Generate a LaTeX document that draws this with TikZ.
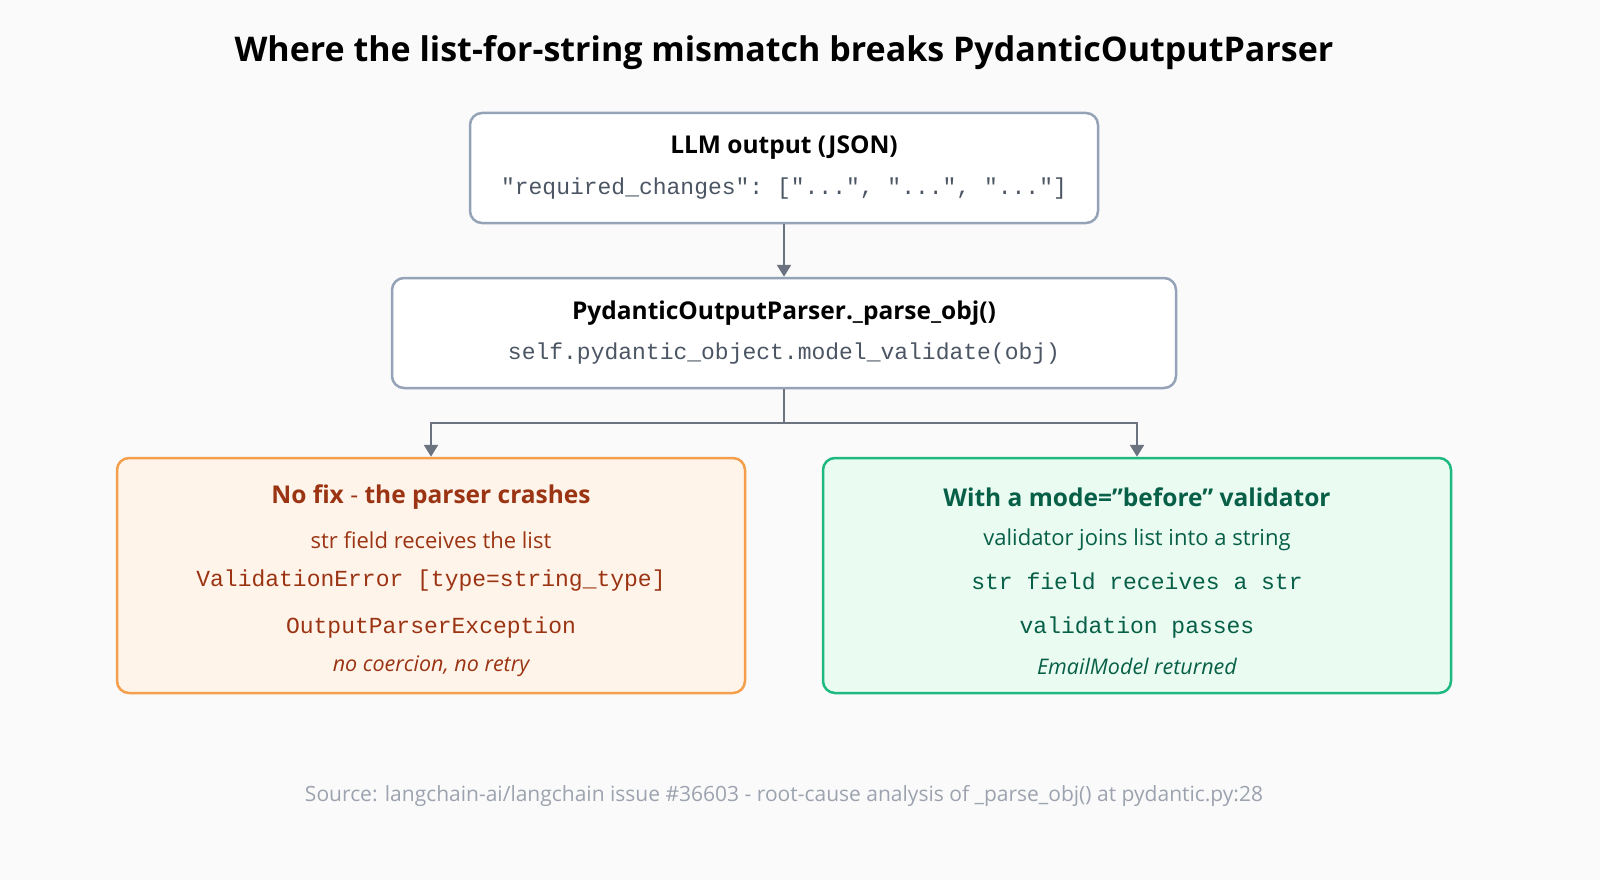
\documentclass[tikz,border=0pt]{standalone}
\usepackage{fontspec}
\setmainfont{Open Sans}
\setmonofont{Liberation Mono}
\usetikzlibrary{arrows.meta}
\definecolor{bg}{HTML}{FAFAFA}
\definecolor{boxb}{HTML}{94A3B8}
\definecolor{ln}{HTML}{6B7280}
\definecolor{ofill}{HTML}{FFF4EA}
\definecolor{oline}{HTML}{F59E4B}
\definecolor{otxt}{HTML}{9A3412}
\definecolor{gfill}{HTML}{EAFBF2}
\definecolor{gline}{HTML}{1DB981}
\definecolor{gtxt}{HTML}{065F46}
\definecolor{foot}{HTML}{9CA3AF}
\definecolor{mono}{HTML}{4B5563}
\begin{document}
\begin{tikzpicture}[x=1pt,y=-1pt,
 box/.style={draw=#1,line width=2.5pt,rounded corners=12pt,inner sep=0pt},
 ttl/.style={font=\fontsize{24.5}{28}\selectfont\bfseries},
 body/.style={font=\fontsize{22}{26}\selectfont},
 mn/.style={font=\fontsize{23}{26}\ttfamily},
 it/.style={font=\fontsize{21.5}{25}\selectfont\itshape},
 conn/.style={draw=ln,line width=2.5pt},
 tip/.style={-{Triangle[length=12pt,width=14pt]}}]
\fill[bg] (0,0) rectangle (1600,880);
\useasboundingbox (0,0) rectangle (1600,880);
\node[font=\fontsize{34}{40}\selectfont\bfseries] (title) at (784,53) {Where the list-for-string mismatch breaks PydanticOutputParser};
\node[box=boxb,fill=white,minimum width=628pt,minimum height=110pt] (b1) at (784,168) {};
\node[ttl] (b1t) at (784,148) {LLM output (JSON)};
\node[mn,text=mono] (b1m) at (784,189) {"required\_changes": ["...", "...", "..."]};
\node[box=boxb,fill=white,minimum width=784pt,minimum height=110pt] (b2) at (784,333) {};
\node[ttl] (b2t) at (784,313) {PydanticOutputParser.\_parse\_obj()};
\node[mn,text=mono] (b2m) at (784,354) {self.pydantic\_object.model\_validate(obj)};
\node[box=oline,fill=ofill,minimum width=628pt,minimum height=235pt] (L) at (431,575.5) {};
\node[box=gline,fill=gfill,minimum width=628pt,minimum height=235pt] (R) at (1137,575.5) {};
\node[ttl,text=otxt] (Lt) at (431,497) {No fix {\mdseries -} the parser crashes};
\node[body,text=otxt] (L1) at (431,540) {str field receives the list};
\node[mn,text=otxt] (L2) at (431,581) {ValidationError [type=string\_type]};
\node[mn,text=otxt] (L3) at (431,628) {OutputParserException};
\node[it,text=otxt] (L4) at (431,666) {no coercion, no retry};
\node[ttl,text=gtxt] (Rt) at (1137,497) {With a mode={\char34}before{\char34} validator};
\node[body,text=gtxt] (R1) at (1137,540) {validator joins list into a string};
\node[mn,text=gtxt] (R2) at (1137,581) {str field receives a str};
\node[mn,text=gtxt] (R3) at (1137,628) {validation passes};
\node[it,text=gtxt] (R4) at (1137,666) {EmailModel returned};
\node[font=\fontsize{21}{24}\selectfont,text=foot] (ft) at (784,796) {Source: langchain-ai/langchain issue \#36603 - root-cause analysis of \_parse\_obj() at pydantic.py:28};
\draw[conn,tip] (b1.south) -- (b2.north);
\coordinate (j) at (784,423);
\draw[conn] (b2.south) -- (j);
\draw[conn,tip] (j) -| (L.north);
\draw[conn,tip] (j) -| (R.north);
\end{tikzpicture}
\end{document}
